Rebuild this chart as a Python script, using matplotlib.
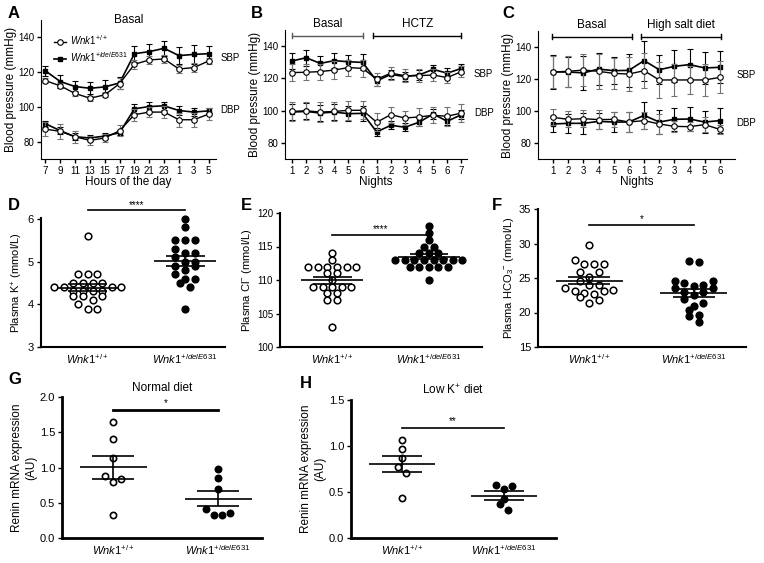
import matplotlib
matplotlib.use("Agg")
import matplotlib.pyplot as plt
import numpy as np

plt.rcParams['font.family'] = ['Liberation Sans', 'DejaVu Sans']
plt.rcParams['mathtext.fontset'] = 'custom'
plt.rcParams['mathtext.rm'] = 'Liberation Sans'
plt.rcParams['mathtext.it'] = 'Liberation Sans:italic'
plt.rcParams['mathtext.bf'] = 'Liberation Sans:bold'

# ---------- data ----------
a_hours = ['7', '9', '11', '13', '15', '17', '19', '21', '23', '1', '3', '5']
a_wt_sbp = [115.1, 112.1, 107.7, 105.0, 106.9, 113.4, 124.5, 127.0, 127.6, 121.8, 122.6, 126.4]
a_wt_sbp_err = [1.5, 1.5, 1.5, 1.5, 1.5, 3.0, 2.5, 2.5, 2.5, 2.5, 2.5, 2.0]
a_mut_sbp = [120.7, 114.6, 111.7, 110.7, 111.5, 113.8, 130.6, 131.8, 133.7, 129.5, 130.2, 130.6]
a_mut_sbp_err = [2.8, 3.5, 3.2, 3.5, 3.7, 3.5, 4.5, 4.5, 4.5, 5.0, 5.5, 4.2]
a_wt_dbp = [87.2, 85.9, 82.8, 80.7, 82.1, 86.3, 95.5, 97.0, 97.0, 92.6, 92.6, 95.8]
a_wt_dbp_err = [4.0, 4.5, 3.5, 2.5, 2.5, 3.0, 3.5, 3.0, 3.5, 4.0, 4.0, 3.5]
a_mut_dbp = [90.3, 86.3, 82.8, 82.1, 83.2, 85.1, 98.9, 100.2, 100.6, 97.9, 97.0, 97.7]
a_mut_dbp_err = [1.8, 2.0, 2.0, 1.5, 1.5, 1.5, 2.5, 2.5, 2.2, 2.5, 2.5, 1.5]

b_nights = ['1', '2', '3', '4', '5', '6', '1', '2', '3', '4', '5', '6', '7']
b_mut_sbp = [130.8, 132.8, 129.3, 131.0, 130.3, 129.9, 118.4, 122.5, 121.1, 122.1, 125.6, 123.2, 126.2]
b_mut_sbp_err = [5, 5, 4.5, 4.5, 4.5, 5, 3, 3, 3, 3, 3, 3, 3]
b_wt_sbp = [123.6, 123.8, 124.2, 125.2, 126.7, 126.2, 119.5, 123.2, 121.7, 121.7, 122.1, 120.5, 124.2]
b_wt_sbp_err = [5.5, 5, 5, 5.5, 5, 5.5, 4, 4, 4, 4, 4, 3.5, 3.5]
b_mut_dbp = [99.1, 99.5, 98.5, 99.1, 98.1, 98.3, 86.8, 90.9, 89.7, 92.8, 97.9, 93.4, 97.5]
b_mut_dbp_err = [5, 5, 5, 5, 4.5, 4.5, 2.5, 2.5, 2.5, 2.5, 3, 2.5, 3]
b_wt_dbp = [99.5, 99.9, 99.1, 99.5, 100.2, 100.2, 92.8, 97.5, 95.4, 96.1, 97.1, 96.5, 98.5]
b_wt_dbp_err = [6, 5.5, 6, 6, 6, 5.5, 5.5, 5, 4.5, 5.5, 5, 6, 5.5]

c_nights = ['1', '2', '3', '4', '5', '6', '1', '2', '3', '4', '5', '6']
c_mut_sbp = [124.4, 124.4, 123.8, 126.2, 125.2, 125.4, 131.5, 125.8, 127.9, 129.0, 126.9, 127.3]
c_mut_sbp_err = [10.5, 9.5, 10.5, 10, 8.5, 10.5, 12.5, 9, 10, 10, 10, 10]
c_wt_sbp = [124.4, 124.8, 125.6, 124.8, 123.5, 123.1, 125.2, 119.4, 119.4, 119.4, 119.4, 121.0]
c_wt_sbp_err = [10, 9.5, 10, 11, 9.5, 10.5, 11, 11, 10, 9, 10, 10]
c_mut_dbp = [91.9, 92.3, 92.3, 93.5, 93.1, 93.1, 97.3, 93.1, 94.8, 95.0, 93.1, 94.0]
c_mut_dbp_err = [5, 6, 6.5, 5, 6, 6.5, 8.5, 7.5, 7, 7.5, 7, 8]
c_wt_dbp = [96.0, 94.8, 95.2, 94.6, 94.8, 93.1, 94.0, 91.9, 90.4, 90.2, 91.5, 88.5]
c_wt_dbp_err = [5, 5, 5.5, 6, 4.5, 6, 5.5, 6, 3.5, 3, 4.5, 3]

d_wt = [5.6, 4.7, 4.7, 4.7, 4.5, 4.5, 4.5, 4.5, 4.4, 4.4, 4.4, 4.4, 4.3, 4.3, 4.3, 4.3,
        4.2, 4.2, 4.2, 4.1, 4.0, 3.9, 3.9]
d_mut = [6.0, 5.8, 5.5, 5.5, 5.5, 5.3, 5.2, 5.2, 5.1, 5.0, 5.0, 4.9, 4.9, 4.8, 4.7,
         4.6, 4.6, 4.5, 4.4, 3.9]
e_wt = [114, 113, 112, 112, 112, 112, 112, 112, 111, 111, 110, 109, 109, 109, 109, 109,
        108, 108, 107, 107, 103]
e_mut = [118, 117, 116, 115, 115, 114, 114, 114, 113, 113, 113, 113, 113, 113, 113, 113,
         112, 112, 112, 112, 112, 110]
f_wt = [29.8, 27.6, 27.0, 27.0, 27.1, 25.9, 25.8, 25.2, 24.0, 24.5, 24.0, 23.6, 23.1, 23.1,
        23.3, 22.8, 22.7, 22.2, 21.4, 21.8]
f_mut = [27.3, 27.5, 23.8, 23.6, 24.3, 24.5, 24.5, 23.6, 24.0, 22.0, 22.6, 22.9, 22.9, 21.0,
         21.4, 20.4, 19.7, 19.5, 18.6]
g_wt = [1.65, 1.41, 1.13, 0.83, 0.88, 0.80, 0.32]
g_mut = [0.98, 0.85, 0.69, 0.35, 0.32, 0.32, 0.41]
h_wt = [1.07, 0.97, 0.87, 0.77, 0.71, 0.44]
h_mut = [0.58, 0.56, 0.53, 0.42, 0.37, 0.30]

wt_name = r'$\mathit{Wnk1}^{\mathit{+/+}}$'
mut_name = r'$\mathit{Wnk1}^{\mathit{+/delE631}}$'

W, H = 764, 563
fig = plt.figure(figsize=(W / 100, H / 100), dpi=100)


def add_ax(x0, y0, x1, y1):
    ax = fig.add_axes([x0 / W, 1 - y1 / H, (x1 - x0) / W, (y1 - y0) / H])
    ax.spines['top'].set_visible(False)
    ax.spines['right'].set_visible(False)
    ax.tick_params(direction='out', length=3, width=1, labelsize=7, pad=2)
    return ax


def panel_letter(x, y, s):
    fig.text(x / W, 1 - y / H, s, fontsize=12, fontweight='bold', va='center', ha='left')


def bp_lines(ax, x, vals, errs, filled):
    if filled:
        ax.errorbar(x, vals, yerr=errs, color='black', marker='s', ms=3.5, mfc='black',
                    lw=1.2, elinewidth=0.8, capsize=2, capthick=0.8, zorder=3)
    else:
        ax.errorbar(x, vals, yerr=errs, color='black', ecolor='0.45', marker='o', ms=4,
                    mfc='white', mec='black', mew=0.8, lw=1.0, elinewidth=0.8,
                    capsize=2, capthick=0.8, zorder=4)


def swarm(vals, center, spacing, xppu, yppu, bin_px):
    # points closer than bin_px vertically share a row; each row is centred
    vals = np.asarray(vals, dtype=float)
    order = np.argsort(vals, kind='stable')
    xs = np.zeros(len(vals))
    rows = []
    for i in order:
        if rows and (vals[i] - vals[rows[-1][0]]) * yppu < bin_px:
            rows[-1].append(i)
        else:
            rows.append([i])
    for row in rows:
        n = len(row)
        pos = (np.arange(n) - (n - 1) / 2) * spacing
        pos = sorted(pos, key=lambda p: (abs(p), -p))
        for i, p in zip(row, pos):
            xs[i] = center + p / xppu
    return xs


def dot_panel(box, ylim, yticks, wt, mut, ylabel, sig_y, star_y, stars, ms, sp, bin_px,
              xlim, spine_w=1.5, sig_w=1.2, title=None, ylabel_fs=8, mew=1.1):
    ax = add_ax(*box)
    ax.set_xlim(*xlim)
    ax.set_ylim(*ylim)
    xppu = (box[2] - box[0]) / (xlim[1] - xlim[0])
    yppu = (box[3] - box[1]) / (ylim[1] - ylim[0])
    for c, vals, fc in [(0, wt, 'white'), (1, mut, 'black')]:
        xs = swarm(vals, c, sp, xppu, yppu, bin_px)
        ax.plot(xs, vals, 'o', ms=ms, mfc=fc, mec='black', mew=mew, ls='none',
                clip_on=False, zorder=3)
        m = np.mean(vals)
        sem = np.std(vals, ddof=1) / np.sqrt(len(vals))
        ax.hlines(m, c - 0.32, c + 0.32, color='black', lw=1.2, zorder=4)
        ax.hlines([m - sem, m + sem], c - 0.2, c + 0.2, color='black', lw=1.2, zorder=4)
        ax.vlines(c, m - sem, m + sem, color='black', lw=1.2, zorder=4)
    ax.plot([0, 1], [sig_y, sig_y], color='black', lw=sig_w, clip_on=False)
    ax.text(0.5, star_y, stars, ha='center', va='center', fontsize=7, clip_on=False)
    ax.set_yticks(yticks)
    ax.set_xticks([0, 1])
    ax.set_xticklabels([wt_name, mut_name], fontsize=8)
    ax.tick_params(axis='x', length=0, pad=4)
    ax.tick_params(axis='y', labelsize=8)
    for sp_name in ['left', 'bottom']:
        ax.spines[sp_name].set_linewidth(spine_w)
    ax.set_ylabel(ylabel, fontsize=ylabel_fs, labelpad=2)
    if title:
        ax.set_title(title, fontsize=8.5, pad=4)
    return ax


def bp_axes(ax, labels, xlab):
    ax.set_ylim(70, 150)
    ax.set_yticks([80, 100, 120, 140])
    ax.set_xticks(np.arange(len(labels)))
    ax.set_xticklabels(labels)
    ax.set_xlabel(xlab, fontsize=8.5, labelpad=0)
    ax.set_ylabel('Blood pressure (mmHg)', fontsize=8.5, labelpad=1)


def bracket(ax, x0, x1, lab, col):
    ax.plot([x0, x1], [146.5, 146.5], color=col, lw=1, clip_on=False)
    ax.plot([x0, x0], [145, 148], color=col, lw=1, clip_on=False)
    ax.plot([x1, x1], [145, 148], color=col, lw=1, clip_on=False)
    ax.text((x0 + x1) / 2, 153.5, lab, ha='center', va='center', fontsize=8.5, clip_on=False)


# ---------- panel A ----------
ax = add_ax(41, 20, 216, 159)
xa = np.arange(len(a_hours))
bp_lines(ax, xa, a_mut_sbp, a_mut_sbp_err, True)
bp_lines(ax, xa, a_wt_sbp, a_wt_sbp_err, False)
bp_lines(ax, xa, a_mut_dbp, a_mut_dbp_err, True)
bp_lines(ax, xa, a_wt_dbp, a_wt_dbp_err, False)
ax.set_xlim(-0.3, 11.5)
bp_axes(ax, a_hours, 'Hours of the day')
ax.text(0.5, 1.0, 'Basal', transform=ax.transAxes, ha='center', va='center', fontsize=8.5)
ax.text(11.8, 128, 'SBP', fontsize=7, va='center', clip_on=False)
ax.text(11.8, 98, 'DBP', fontsize=7, va='center', clip_on=False)
h1 = ax.plot([], [], color='black', marker='o', ms=4, mfc='white', mew=0.8, lw=1.0)[0]
h2 = ax.plot([], [], color='black', marker='s', ms=3.5, mfc='black', lw=1.2)[0]
ax.legend([h1, h2], [wt_name, mut_name], loc='upper left', bbox_to_anchor=(0.05, 0.93),
          frameon=False, fontsize=7, handlelength=1.3, handletextpad=0.4,
          borderaxespad=0, labelspacing=0.3)
panel_letter(8, 14, 'A')

# ---------- panel B ----------
ax = add_ax(285, 30, 467, 159)
xb = np.arange(len(b_nights))
bp_lines(ax, xb, b_mut_sbp, b_mut_sbp_err, True)
bp_lines(ax, xb, b_wt_sbp, b_wt_sbp_err, False)
bp_lines(ax, xb, b_mut_dbp, b_mut_dbp_err, True)
bp_lines(ax, xb, b_wt_dbp, b_wt_dbp_err, False)
ax.set_xlim(-0.5, 12.4)
bp_axes(ax, b_nights, 'Nights')
bracket(ax, 0, 5, 'Basal', '0.35')
bracket(ax, 5.75, 12, 'HCTZ', 'black')
ax.text(12.9, 123, 'SBP', fontsize=7, va='center', clip_on=False)
ax.text(12.9, 98.5, 'DBP', fontsize=7, va='center', clip_on=False)
panel_letter(251, 14, 'B')

# ---------- panel C ----------
ax = add_ax(538, 31, 735, 159)
xc = np.arange(len(c_nights))
bp_lines(ax, xc, c_mut_sbp, c_mut_sbp_err, True)
bp_lines(ax, xc, c_wt_sbp, c_wt_sbp_err, False)
bp_lines(ax, xc, c_mut_dbp, c_mut_dbp_err, True)
bp_lines(ax, xc, c_wt_dbp, c_wt_dbp_err, False)
ax.set_xlim(-1, 12)
bp_axes(ax, c_nights, 'Nights')
bracket(ax, -0.1, 5.2, 'Basal', 'black')
bracket(ax, 5.8, 11.1, 'High salt diet', 'black')
ax.text(12.1, 122.5, 'SBP', fontsize=7, va='center', clip_on=False)
ax.text(12.1, 92.5, 'DBP', fontsize=7, va='center', clip_on=False)
panel_letter(502, 14, 'C')

# ---------- panels D-F ----------
dot_panel((41, 218, 225, 347), (3, 6.02), [3, 4, 5, 6], d_wt, d_mut,
          r'Plasma K$^{+}$ (mmol/L)', 6.2, 6.33, '****', 4.8, 9.6, 5.0, (-0.48, 1.41))
panel_letter(8, 205, 'D')
dot_panel((280, 213, 482, 347), (100, 120), [100, 105, 110, 115, 120], e_wt, e_mut,
          r'Plasma Cl$^{-}$ (mmol/L)', 116.75, 117.6, '****', 4.8, 9.6, 5.0, (-0.54, 1.55))
panel_letter(241, 205, 'E')
dot_panel((538, 209, 746, 347), (15, 35), [15, 20, 25, 30, 35], f_wt, f_mut,
          r'Plasma HCO$_3$$^{-}$ (mmol/L)', 32.7, 33.5, '*', 4.8, 9.6, 7.0, (-0.49, 1.5))
panel_letter(492, 205, 'F')

# ---------- panels G-H ----------
dot_panel((62, 397, 262, 538), (0, 2.0), [0.0, 0.5, 1.0, 1.5, 2.0], g_wt, g_mut,
          'Renin mRNA expression\n(AU)', 1.82, 1.91, '*', 4.5, 8.0, 8.0, (-0.49, 1.42),
          spine_w=2.0, sig_w=2.0, title='Normal diet', ylabel_fs=8.5, mew=1.2)
panel_letter(8, 380, 'G')
dot_panel((351, 400, 556, 538), (0, 1.5), [0.0, 0.5, 1.0, 1.5], h_wt, h_mut,
          'Renin mRNA expression\n(AU)', 1.2, 1.27, '**', 4.5, 8.0, 8.0, (-0.5, 1.51),
          spine_w=2.0, sig_w=1.2, title=r'Low K$^{+}$ diet', ylabel_fs=8.5, mew=1.2)
panel_letter(300, 384, 'H')

for a in fig.axes:
    for lab in a.get_yticklabels():
        lab.set_fontsize(7 if a.get_ylim()[1] > 100 else 8)

fig.savefig('out.png', dpi=100)
